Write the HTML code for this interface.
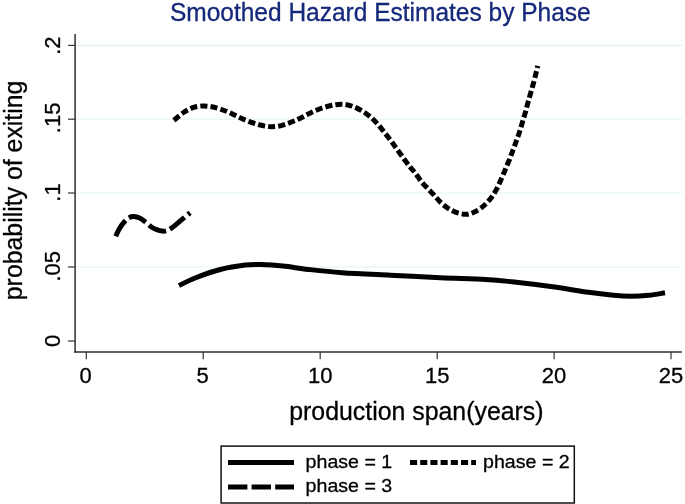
<!DOCTYPE html>
<html><head><meta charset="utf-8"><title>Smoothed Hazard Estimates by Phase</title>
<style>
html,body{margin:0;padding:0;background:#fff;}
svg{display:block;}
text{font-family:"Liberation Sans",sans-serif;fill:#000;stroke:#000;stroke-width:0.3px;}
#title{stroke:#15287a;}
</style></head><body>
<svg width="685" height="504" viewBox="0 0 685 504">
<rect width="685" height="504" fill="#ffffff"/>
<g stroke="#dff3ec" stroke-width="1.1">
<line x1="76" x2="682" y1="45.4" y2="45.4"/>
<line x1="76" x2="682" y1="119.2" y2="119.2"/>
<line x1="76" x2="682" y1="193" y2="193"/>
<line x1="76" x2="682" y1="267" y2="267"/>
</g>
<g stroke="#2e2e2e" stroke-width="1.5" fill="none">
<line x1="75.1" x2="75.1" y1="34" y2="352.8"/>
<line x1="74.3" x2="682" y1="352" y2="352"/>
</g><g stroke="#3a3a3a" stroke-width="1.25" fill="none">
<line x1="68" x2="75.3" y1="45.4" y2="45.4"/>
<line x1="68" x2="75.3" y1="119.2" y2="119.2"/>
<line x1="68" x2="75.3" y1="193" y2="193"/>
<line x1="68" x2="75.3" y1="267" y2="267"/>
<line x1="68" x2="75.3" y1="341" y2="341"/>
<line x1="86.3" x2="86.3" y1="352" y2="359.2"/>
<line x1="203.2" x2="203.2" y1="352" y2="359.2"/>
<line x1="320.2" x2="320.2" y1="352" y2="359.2"/>
<line x1="437.2" x2="437.2" y1="352" y2="359.2"/>
<line x1="554.1" x2="554.1" y1="352" y2="359.2"/>
<line x1="671" x2="671" y1="352" y2="359.2"/>
</g>
<g fill="none" stroke="#000" stroke-width="5">
<path d="M178.9 285.6 C181.6 284.3 188.2 280.7 195.1 278.0 C202.0 275.3 211.9 271.6 220.3 269.5 C228.7 267.4 238.7 265.9 245.4 265.1 C252.1 264.3 254.2 264.4 260.5 264.6 C266.8 264.8 275.1 265.3 283.0 266.1 C290.9 266.9 298.4 268.3 308.2 269.4 C318.0 270.5 328.3 271.7 342.0 272.7 C355.7 273.7 373.9 274.4 390.3 275.2 C406.7 276.0 424.6 277.0 440.5 277.7 C456.4 278.4 473.8 278.7 485.7 279.4 C497.6 280.1 501.2 280.6 512.0 281.8 C522.8 283.0 538.0 284.8 550.7 286.5 C563.4 288.2 577.9 290.8 588.4 292.3 C598.9 293.8 606.4 294.6 613.5 295.3 C620.6 296.0 625.2 296.3 631.1 296.3 C637.0 296.3 643.1 295.9 648.7 295.3 C654.4 294.7 662.3 293.2 665.0 292.8"/>
<path stroke-dasharray="7.1 3.1" d="M173.8 120.3 C175.5 119.0 180.8 114.4 183.9 112.3 C187.1 110.2 189.7 108.8 192.7 107.7 C195.7 106.7 198.9 106.2 202.0 106.0 C205.1 105.8 208.4 106.2 211.5 106.7 C214.6 107.2 217.2 108.0 220.3 109.0 C223.4 110.0 226.7 111.4 229.8 112.8 C232.9 114.2 235.9 115.8 239.1 117.3 C242.3 118.8 245.8 120.3 249.2 121.6 C252.5 122.8 256.0 124.0 259.2 124.8 C262.4 125.6 265.4 126.3 268.5 126.6 C271.6 126.8 274.3 126.8 277.6 126.3 C280.9 125.8 284.9 124.4 288.1 123.3 C291.3 122.2 294.0 121.1 296.9 119.8 C299.8 118.5 302.8 116.8 305.7 115.3 C308.6 113.8 311.4 112.3 314.5 111.0 C317.6 109.7 321.2 108.2 324.6 107.2 C328.0 106.2 331.8 105.3 335.1 104.8 C338.4 104.3 341.3 104.0 344.4 104.3 C347.5 104.6 350.8 105.6 353.9 106.8 C357.0 108.0 360.3 109.8 363.2 111.6 C366.1 113.4 369.0 115.6 371.5 117.8 C374.0 120.0 376.1 122.4 378.3 124.9 C380.5 127.4 382.6 130.1 384.8 132.9 C387.0 135.7 389.4 138.8 391.6 141.7 C393.8 144.6 395.8 147.6 397.9 150.5 C400.0 153.4 402.2 156.6 404.2 159.3 C406.2 162.0 408.2 164.6 410.0 166.8 C411.8 169.1 413.2 170.3 415.1 172.8 C417.0 175.3 419.3 178.9 421.4 181.6 C423.5 184.2 425.7 186.4 427.9 188.7 C430.1 191.0 432.3 193.1 434.5 195.5 C436.7 197.9 438.7 200.7 441.2 203.0 C443.7 205.3 446.5 207.4 449.4 209.1 C452.3 210.8 455.5 212.3 458.6 213.2 C461.8 214.0 465.1 214.7 468.3 214.2 C471.5 213.7 475.1 211.8 478.0 210.1 C480.9 208.4 483.4 206.2 485.7 204.0 C488.0 201.8 489.9 199.5 491.8 196.9 C493.7 194.3 495.4 191.4 497.0 188.3 C498.6 185.2 500.2 181.4 501.7 178.1 C503.1 174.8 504.4 171.8 505.7 168.6 C507.0 165.4 508.4 162.2 509.7 159.0 C510.9 155.8 512.1 152.6 513.2 149.5 C514.4 146.4 515.5 143.4 516.6 140.4 C517.7 137.4 518.7 134.5 519.7 131.4 C520.7 128.3 521.5 125.2 522.5 121.9 C523.5 118.6 524.7 114.9 525.6 111.6 C526.5 108.3 527.2 105.3 528.1 102.1 C529.0 98.9 529.9 95.7 530.8 92.5 C531.7 89.3 532.6 86.2 533.5 83.0 C534.4 79.8 535.2 76.3 535.9 73.5 C536.6 70.7 537.4 67.2 537.7 65.9"/>
<path stroke-dasharray="18.5 4.4" d="M115.7 236.2 C116.3 234.9 118.1 231.0 119.5 228.6 C120.9 226.2 122.7 223.7 124.3 221.9 C125.9 220.1 127.5 218.6 129.1 217.7 C130.7 216.8 132.1 216.5 133.8 216.6 C135.6 216.7 137.7 217.2 139.6 218.1 C141.5 219.0 143.4 220.5 145.3 221.9 C147.2 223.3 149.1 225.4 151.0 226.7 C152.9 228.0 154.8 228.9 156.7 229.6 C158.6 230.3 160.7 230.9 162.4 231.1 C164.2 231.2 165.6 231.1 167.2 230.5 C168.8 229.9 170.1 229.1 172.0 227.7 C173.9 226.3 176.5 224.1 178.6 222.3 C180.7 220.6 182.8 218.8 184.7 217.2 C186.6 215.6 189.2 213.5 190.1 212.8"/>
</g>
<text id="title" x="380.3" y="21.1" font-size="25.3" text-anchor="middle" textLength="420.8" lengthAdjust="spacingAndGlyphs" style="fill:#15287a">Smoothed Hazard Estimates by Phase</text>
<g font-size="22" text-anchor="middle">
<text id="x0" x="85.6" y="383.3">0</text>
<text id="x5" x="202.6" y="383.3">5</text>
<text id="x10" x="320.2" y="383.3">10</text>
<text id="x15" x="437.2" y="383.3">15</text>
<text id="x20" x="554.1" y="383.3">20</text>
<text id="x25" x="671" y="383.3">25</text>
</g>
<g font-size="22" text-anchor="middle">
<text id="y20" transform="translate(59.5 45.7) rotate(-90)">.2</text>
<text id="y15" transform="translate(59.5 117.9) rotate(-90)">.15</text>
<text id="y10" transform="translate(59.5 192.5) rotate(-90)">.1</text>
<text id="y05" transform="translate(59.5 266.2) rotate(-90)">.05</text>
<text id="y00" transform="translate(59.5 340.8) rotate(-90)">0</text>
</g>
<text id="xt" x="416.4" y="419.8" font-size="24.9" text-anchor="middle" textLength="254.4" lengthAdjust="spacingAndGlyphs">production span(years)</text>
<text id="yt" transform="translate(22 190.4) rotate(-90)" font-size="24.9" text-anchor="middle" textLength="219.6" lengthAdjust="spacingAndGlyphs">probability of exiting</text>
<rect x="221.1" y="446.1" width="353.2" height="56.9" fill="#fff" stroke="#111" stroke-width="1.5"/>
<g fill="none" stroke="#000" stroke-width="5">
<line x1="228" x2="294" y1="462.5" y2="462.5"/>
<line x1="228" x2="294" y1="486.9" y2="486.9" stroke-dasharray="19.4 4.2"/>
<line x1="410" x2="476" y1="462.5" y2="462.5" stroke-dasharray="7.1 3.1"/>
</g>
<g font-size="19">
<text id="l1" textLength="86.7" lengthAdjust="spacingAndGlyphs" x="305.6" y="468.1">phase = 1</text>
<text id="l3" textLength="86.7" lengthAdjust="spacingAndGlyphs" x="305.6" y="492.2">phase = 3</text>
<text id="l2" textLength="86.7" lengthAdjust="spacingAndGlyphs" x="483" y="468.1">phase = 2</text>
</g>
</svg>
</body></html>
